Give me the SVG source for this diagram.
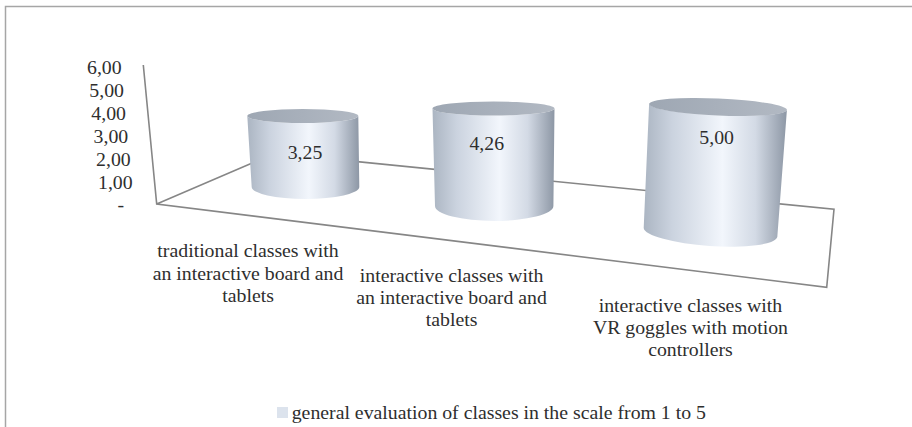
<svg xmlns="http://www.w3.org/2000/svg" width="912" height="427" viewBox="0 0 912 427">
  <defs>
    <style>
      .frame { fill: none; stroke: #a6a6a6; stroke-width: 1.5; }
      .grid { fill: none; stroke: #868686; stroke-width: 1.6; stroke-linejoin: miter; }
      .txt { font-family: 'Liberation Serif', 'Times New Roman', serif; font-size: 18px; fill: #2e2e2e; }
      .mid { text-anchor: middle; }
      .end { text-anchor: end; }
      .body { fill: url(#cylBody); }
      .top { fill: url(#cylTop); }
    </style>
    <linearGradient id="cylBody" x1="0" y1="0" x2="1" y2="0">
      <stop offset="0" stop-color="#abb5c2"/>
      <stop offset="0.2" stop-color="#cbd3df"/>
      <stop offset="0.55" stop-color="#f2f6fc"/>
      <stop offset="0.78" stop-color="#d3dae5"/>
      <stop offset="1" stop-color="#8d97a5"/>
    </linearGradient>
    <linearGradient id="cylTop" x1="0" y1="0" x2="1" y2="0">
      <stop offset="0" stop-color="#9ea7b3"/>
      <stop offset="1" stop-color="#b2b9c3"/>
    </linearGradient>
  </defs>

  <rect width="912" height="427" fill="#ffffff"/>
  <!-- chart area border, runs past the right and bottom edges -->
  <path class="frame" d="M5.5,427 V6.5 H912"/>

  <!-- value axis line and floor outline -->
  <g id="connectors">
    <path class="grid" d="M143.3,65 L156.7,204 L826.7,287.3 L834,209.3 L274.7,153.4 L156.7,204"/>
  </g>

  <!-- cylinders -->
  <g id="bar-traditional">
    <path class="body" d="M247.3,116 L251.7,187 A53.8,12 0 0,0 359.3,187 L358.3,116 A55.5,7 0 0,1 247.3,116 Z"/>
    <ellipse class="top" cx="302.8" cy="116" rx="55.5" ry="7"/>
  </g>
  <g id="bar-interactive-board">
    <path class="body" d="M432.5,108.5 L435,206 A59.2,15 0 0,0 553.4,206 L554.5,108.5 A61,7 0 0,1 432.5,108.5 Z"/>
    <ellipse class="top" cx="493.5" cy="108.5" rx="61" ry="7"/>
  </g>
  <g id="bar-vr-goggles">
    <path class="body" d="M649.1,104 L643.7,227.9 A67,14 3.9 0,0 777.3,237.1 L786.9,110 A69,8.5 2.5 0,1 649.1,104 Z"/>
    <ellipse class="top" cx="718" cy="107" rx="69" ry="8.5" transform="rotate(2.5 718 107)"/>
  </g>

  <!-- all text is set slightly wide: x positions below are divided by 1.1 -->
  <g transform="scale(1.1 1)">
    <g id="value-axis" class="txt end">
      <text x="110.6" y="74">6,00</text>
      <text x="112.7" y="97">5,00</text>
      <text x="114.5" y="120">4,00</text>
      <text x="116.6" y="143">3,00</text>
      <text x="118.8" y="166">2,00</text>
      <text x="120.6" y="189">1,00</text>
      <text x="112.7" y="211">-</text>
    </g>

    <g id="value-labels" class="txt mid">
      <text x="277.3" y="159.3">3,25</text>
      <text x="442.5" y="150">4,26</text>
      <text x="651.5" y="144">5,00</text>
    </g>

    <g id="category-traditional" class="txt mid">
      <text x="225.5" y="257.5">traditional classes with</text>
      <text x="225.5" y="279.7">an interactive board and</text>
      <text x="225.5" y="301.9">tablets</text>
    </g>
    <g id="category-interactive-board" class="txt mid">
      <text x="410.5" y="281.7">interactive classes with</text>
      <text x="410.5" y="303.9">an interactive board and</text>
      <text x="410.5" y="326.1">tablets</text>
    </g>
    <g id="category-vr-goggles" class="txt mid">
      <text x="627.7" y="311.7">interactive classes with</text>
      <text x="627.7" y="333.9">VR goggles with motion</text>
      <text x="627.7" y="356.1">controllers</text>
    </g>

    <g id="legend">
      <rect x="251.8" y="407" width="10" height="11" fill="#dce3ed"/>
      <text class="txt" x="265.2" y="419">general evaluation of classes in the scale from 1 to 5</text>
    </g>
  </g>
</svg>
